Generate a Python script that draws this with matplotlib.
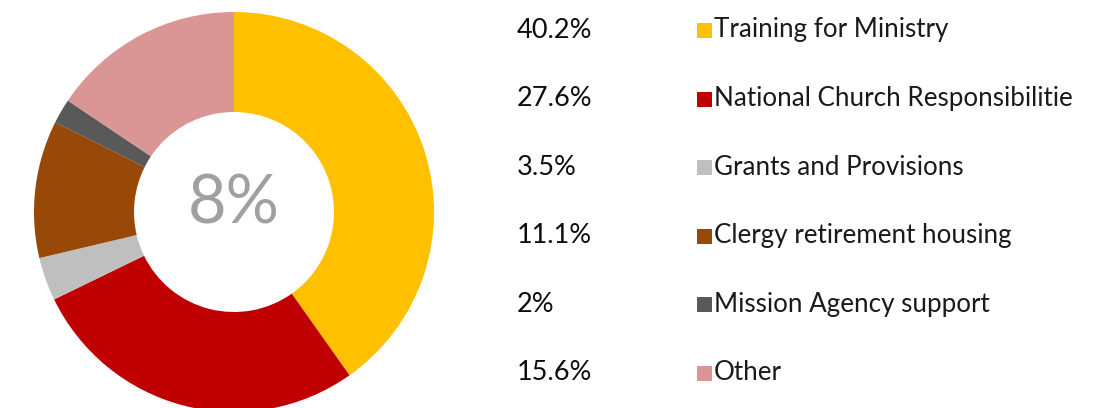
import matplotlib
matplotlib.use("Agg")
import matplotlib.pyplot as plt
from matplotlib.patches import Rectangle

categories = ["Training for Ministry", "National Church Responsibilitie", "Grants and Provisions",
              "Clergy retirement housing", "Mission Agency support", "Other"]
values = [40.2, 27.6, 3.5, 11.1, 2, 15.6]
pct_labels = ["40.2%", "27.6%", "3.5%", "11.1%", "2%", "15.6%"]
colors = ["#FFC000", "#C00000", "#BFBFBF", "#984807", "#595959", "#D99694"]
center_label = "8%"

plt.rcParams['font.family'] = ['Lato', 'DejaVu Sans']

W, H = 1094, 408
fig = plt.figure(figsize=(W / 100, H / 100), dpi=100)

# donut axes: center (234, 212) px, radius 200 px
cx, cy, r = 234, 212, 200
ax = fig.add_axes([(cx - r) / W, (H - cy - r) / H, 2 * r / W, 2 * r / H])
ax.pie(values, colors=colors, startangle=90, counterclock=False, radius=1.0,
       wedgeprops=dict(width=0.5, linewidth=0))
ax.set_xlim(-1, 1)
ax.set_ylim(-1, 1)
ax.set_aspect('equal')
ax.axis('off')
ax.text(0, 0.04, center_label, ha='center', va='center', fontsize=48, color='#A0A0A0')

# legend-like list
y0, dy = 30, 68.6
for i, (cat, pct, col) in enumerate(zip(categories, pct_labels, colors)):
    y = y0 + i * dy
    fy = 1 - y / H
    fig.text(517 / W, fy, pct, ha='left', va='center', fontsize=19.5, color='#0d0d0d')
    fig.patches.append(Rectangle((697 / W, 1 - (y + 8) / H), 15 / W, 15 / H,
                                 transform=fig.transFigure, facecolor=col, edgecolor='none'))
    fig.text(714 / W, fy, cat, ha='left', va='center', fontsize=18.7, color='#1a1a1a')

fig.savefig("out.png", dpi=100, facecolor='white')
